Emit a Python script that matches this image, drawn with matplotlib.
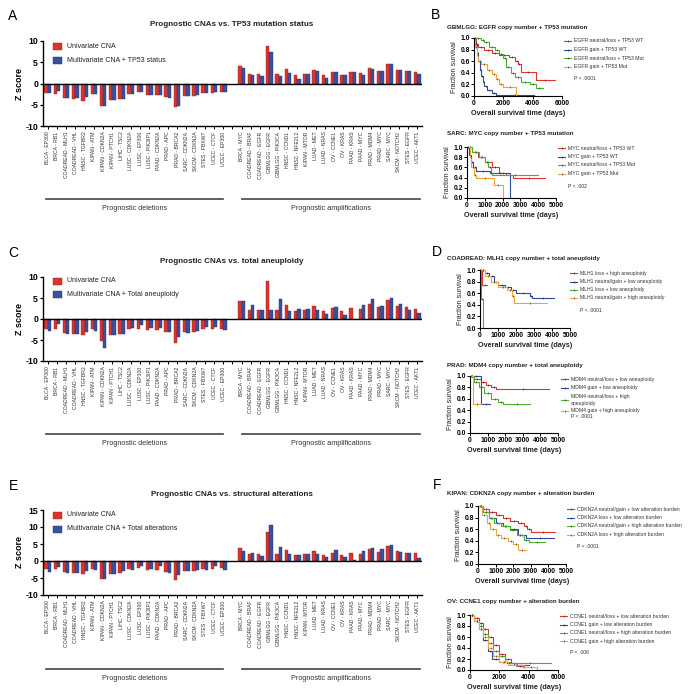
import matplotlib
matplotlib.use('Agg')
import matplotlib.pyplot as plt
import numpy as np
from matplotlib.lines import Line2D
from matplotlib.patches import Rectangle

plt.rcParams['font.family'] = ['Liberation Sans', 'DejaVu Sans']

W, H = 697, 694
fig = plt.figure(figsize=(W / 100, H / 100), dpi=100)

# ---------------- data: bar charts ----------------
deletions = ['BLCA - EP300', 'BRCA - RB1', 'COADREAD - MLH1', 'COADREAD - VHL', 'HNSC - TGFBR2',
             'KIPAN - ATM', 'KIPAN - CDKN2A', 'KIPAN - PTCH1', 'LIHC - TSC2', 'LUSC - CDKN2A',
             'LUSC - EP300', 'LUSC - PIK3IP1', 'PAAD - CDKN2A', 'PRAD - APC', 'PRAD - BRCA2',
             'SARC - CDKN2A', 'SKCM - CDKN2A', 'STES - FBXW7', 'UCEC - CTCF', 'UCEC - EP300']
amplifications = ['BRCA - MYC', 'COADREAD - BRAF', 'COADREAD - EGFR', 'GBMLGG - EGFR', 'GBMLGG - PIK3CA',
                  'HNSC - CCND1', 'HNSC - NFE2L2', 'KIPAN - MTOR', 'LUAD - MET', 'LUAD - NRAS',
                  'OV - CCNE1', 'OV - KRAS', 'PAAD - KRAS', 'PAAD - MYC', 'PRAD - MDM4',
                  'PRAD - MYC', 'SARC - MYC', 'SKCM - NOTCH2', 'STES - EGFR', 'UCEC - AKT1']

# Panel A (TP53 status)
a_uni_del = [-2.2, -2.5, -3.3, -3.6, -4.0, -2.4, -5.4, -3.8, -3.6, -2.4,
             -2.1, -2.6, -2.6, -3.2, -5.6, -3.0, -3.0, -2.2, -2.2, -2.1]
a_multi_del = [-2.2, -1.8, -3.3, -3.4, -3.2, -2.5, -5.4, -3.8, -3.6, -2.5,
               -2.0, -2.6, -2.6, -3.3, -5.4, -3.0, -2.8, -2.2, -2.0, -1.9]
a_uni_amp = [4.1, 2.2, 2.2, 8.9, 2.2, 3.4, 2.1, 2.2, 3.2, 2.0,
             2.7, 2.1, 2.6, 2.5, 3.7, 2.9, 4.6, 3.2, 2.9, 2.6]
a_multi_amp = [3.7, 1.9, 1.8, 7.5, 1.8, 2.4, 1.1, 2.3, 3.0, 1.3,
               2.7, 2.1, 2.6, 2.1, 3.5, 2.9, 4.6, 3.2, 2.9, 2.3]

# Panel C (total aneuploidy)
c_uni_del = [-2.3, -2.3, -3.3, -3.5, -3.9, -2.3, -5.3, -3.9, -3.5, -2.3,
             -2.3, -2.7, -2.7, -3.1, -5.6, -3.1, -3.1, -2.3, -2.3, -2.3]
c_multi_del = [-2.9, -1.3, -3.6, -3.5, -3.1, -2.9, -6.9, -3.7, -3.5, -2.1,
               -1.5, -2.1, -2.1, -3.1, -4.4, -3.3, -2.9, -1.9, -1.9, -2.5]
c_uni_amp = [4.2, 2.2, 2.2, 9.0, 2.2, 3.4, 2.0, 2.2, 3.1, 1.9,
             2.7, 2.0, 2.6, 2.3, 3.6, 2.8, 4.5, 3.1, 2.8, 2.5]
c_multi_amp = [4.3, 3.4, 2.2, 2.2, 4.8, 2.0, 2.3, 2.3, 2.2, 1.3,
               2.9, 1.0, 0.0, 3.4, 4.8, 3.0, 5.1, 3.5, 2.1, 1.5]

# Panel E (structural alterations)
e_uni_del = [-2.3, -2.3, -3.2, -3.4, -3.8, -2.3, -5.4, -3.8, -3.4, -2.3,
             -2.2, -2.6, -2.6, -3.1, -5.6, -2.9, -2.9, -2.3, -2.3, -2.2]
e_multi_del = [-3.1, -1.7, -3.6, -3.4, -2.8, -2.5, -5.4, -3.8, -2.9, -2.5,
               -1.5, -2.4, -1.5, -3.4, -4.1, -2.9, -2.6, -2.6, -1.5, -2.5]
e_uni_amp = [3.8, 2.0, 2.0, 8.5, 2.0, 3.2, 1.8, 2.0, 2.9, 1.7,
             2.5, 1.9, 2.4, 2.2, 3.4, 2.6, 4.3, 2.9, 2.5, 2.4]
e_multi_amp = [2.9, 2.4, 1.4, 10.6, 4.1, 2.0, 1.7, 2.0, 2.1, 1.1,
               3.1, 1.3, 0.3, 2.8, 3.7, 3.4, 4.6, 2.6, 2.4, 0.9]

# ---------------- data: Kaplan-Meier curves ----------------
# B top: GBMLGG EGFR
gbm_red_t = [0, 150, 300, 700, 1200, 1700, 2400, 2800, 3000, 3200, 4200, 5500]
gbm_red_s = [1.0, 0.9, 0.85, 0.8, 0.75, 0.7, 0.68, 0.6, 0.55, 0.42, 0.27, 0.27]
gbm_blue_t = [0, 100, 200, 300, 400, 500, 600, 700, 900, 1200, 1500, 4100]
gbm_blue_s = [1.0, 0.9, 0.75, 0.6, 0.45, 0.35, 0.25, 0.17, 0.1, 0.05, 0.02, 0.02]
gbm_green_t = [0, 500, 700, 1000, 1400, 1700, 2000, 2200, 2500, 2800, 3200, 3800, 4200, 4700]
gbm_green_s = [1.0, 0.97, 0.93, 0.85, 0.8, 0.72, 0.65, 0.5, 0.4, 0.32, 0.25, 0.2, 0.13, 0.13]
gbm_orange_t = [0, 100, 200, 300, 500, 900, 1200, 1500, 1700, 2000, 2850, 2850]
gbm_orange_s = [1.0, 0.85, 0.7, 0.6, 0.55, 0.45, 0.38, 0.3, 0.2, 0.15, 0.0, 0.0]

# B bottom: SARC MYC
sarc_red_t = [0, 300, 600, 1000, 1400, 1800, 2200, 2600, 4400]
sarc_red_s = [1.0, 0.9, 0.8, 0.7, 0.6, 0.5, 0.45, 0.4, 0.4]
sarc_blue_t = [0, 100, 200, 350, 500, 1300, 2400, 2400]
sarc_blue_s = [1.0, 0.85, 0.7, 0.6, 0.52, 0.5, 0.0, 0.0]
sarc_green_t = [0, 300, 700, 1000, 1200, 1350, 1400, 4000]
sarc_green_s = [1.0, 0.9, 0.8, 0.7, 0.6, 0.5, 0.45, 0.45]
sarc_orange_t = [0, 150, 250, 400, 500, 1500, 2000, 2000]
sarc_orange_s = [1.0, 0.8, 0.6, 0.45, 0.4, 0.25, 0.0, 0.0]

# D top: COADREAD MLH1
mlh_red_t = [0, 100, 400]
mlh_red_s = [1.0, 0.75, 0.75]
mlh_blue_t = [0, 300, 500, 800, 1000, 1400, 1700, 2000, 2800, 2900, 4100]
mlh_blue_s = [1.0, 0.95, 0.9, 0.8, 0.75, 0.7, 0.65, 0.6, 0.56, 0.52, 0.52]
mlh_green_t = [0, 50, 150, 150]
mlh_green_s = [1.0, 0.5, 0.0, 0.0]
mlh_orange_t = [0, 300, 600, 1000, 1500, 1800, 1900, 3700]
mlh_orange_s = [1.0, 0.9, 0.8, 0.7, 0.65, 0.55, 0.43, 0.43]

# D bottom: PRAD MDM4
mdm_red_t = [0, 200, 600, 900, 1200, 1500, 4500]
mdm_red_s = [1.0, 0.95, 0.9, 0.85, 0.8, 0.77, 0.77]
mdm_blue_t = [0, 650, 1150]
mdm_blue_s = [1.0, 0.5, 0.5]
mdm_green_t = [0, 200, 500, 800, 1200, 1600, 1900, 3400]
mdm_green_s = [1.0, 0.9, 0.8, 0.7, 0.6, 0.55, 0.5, 0.5]
mdm_orange_t = [0, 150, 600]
mdm_orange_s = [1.0, 0.5, 0.5]

# F top: KIPAN CDKN2A
cdk_red_t = [0, 300, 600, 1000, 1400, 1800, 2300, 2600, 2800, 3000, 4400]
cdk_red_s = [1.0, 0.95, 0.9, 0.85, 0.8, 0.75, 0.7, 0.65, 0.6, 0.56, 0.56]
cdk_blue_t = [0, 300, 600, 1000, 1400, 1800, 2300, 2700, 4300]
cdk_blue_s = [1.0, 0.9, 0.8, 0.7, 0.65, 0.6, 0.5, 0.45, 0.45]
cdk_green_t = [0, 300, 600, 900, 1300, 1800, 2200, 2600, 2900, 3800]
cdk_green_s = [1.0, 0.9, 0.8, 0.7, 0.65, 0.58, 0.5, 0.42, 0.38, 0.38]
cdk_orange_t = [0, 200, 500, 700, 1000, 1300, 1700, 2000, 2300, 2700]
cdk_orange_s = [1.0, 0.85, 0.7, 0.6, 0.5, 0.45, 0.4, 0.35, 0.25, 0.25]

# F bottom: OV CCNE1
ccn_red_t = [0, 300, 600, 900, 1200, 1600, 2000, 2400, 2800, 3200, 3600, 3700]
ccn_red_s = [1.0, 0.95, 0.85, 0.75, 0.6, 0.45, 0.3, 0.2, 0.12, 0.08, 0.05, 0.05]
ccn_blue_t = [0, 300, 600, 900, 1200, 1500, 2000, 2500, 3000, 4000]
ccn_blue_s = [1.0, 0.9, 0.75, 0.55, 0.35, 0.2, 0.15, 0.12, 0.1, 0.1]
ccn_green_t = [0, 300, 600, 900, 1200, 1600, 2000, 2400, 2700, 5500]
ccn_green_s = [1.0, 0.9, 0.8, 0.65, 0.5, 0.35, 0.25, 0.15, 0.12, 0.12]
ccn_orange_t = [0, 300, 600, 900, 1200, 1600, 2000, 2600, 3700, 4600, 4600]
ccn_orange_s = [1.0, 0.9, 0.75, 0.6, 0.4, 0.25, 0.15, 0.1, 0.05, 0.0, 0.0]

RED = '#d8352c'
RED_E = '#a32520'
BLUE = '#3a509c'
BLUE_E = '#26356e'
K_RED = '#e0332e'
K_BLUE = '#2b4aa0'
K_GREEN = '#4cae34'
K_ORANGE = '#f3a23a'
TXT = '#222222'


def px_axes(x0, y0, x1, y1):
    return fig.add_axes([x0 / W, 1 - y1 / H, (x1 - x0) / W, (y1 - y0) / H])


def fx(x):
    return x / W


def fy(y):
    return 1 - y / H


def fig_line(x0, x1, y, lw=1.2, color='#444444'):
    fig.add_artist(Line2D([fx(x0), fx(x1)], [fy(y), fy(y)], transform=fig.transFigure,
                          color=color, lw=lw))


def bar_panel(top, bot, uni_del, multi_del, uni_amp, multi_amp, ylim, yticks,
              legend2, title, title_y, letter, letter_y, bracket_y, leg_y):
    ax = px_axes(43, top, 422, bot)
    n = len(deletions)
    pos_del = np.arange(n)
    pos_amp = np.arange(n + 1, 2 * n + 1)
    w = 0.36
    ax.bar(pos_del - w / 2, uni_del, w, color=RED, edgecolor=RED_E, lw=0.3)
    ax.bar(pos_del + w / 2, multi_del, w, color=BLUE, edgecolor=BLUE_E, lw=0.3)
    ax.bar(pos_amp - w / 2, uni_amp, w, color=RED, edgecolor=RED_E, lw=0.3)
    ax.bar(pos_amp + w / 2, multi_amp, w, color=BLUE, edgecolor=BLUE_E, lw=0.3)
    ax.axhline(0, color='black', lw=1.0)
    ax.set_xlim(-0.5, 2 * n + 0.5)
    ax.set_ylim(*ylim)
    ax.set_yticks(yticks)
    ax.set_yticklabels([str(t) for t in yticks], fontsize=6.3, fontweight='bold')
    ticks = list(pos_del) + [n] + list(pos_amp)
    labels = deletions + [''] + amplifications
    ax.set_xticks(ticks)
    ax.set_xticklabels(labels, rotation=90, fontsize=3.7, color='#333333')
    for s in ['top', 'right']:
        ax.spines[s].set_visible(False)
    for s in ['left', 'bottom']:
        ax.spines[s].set_linewidth(1.0)
    ax.tick_params(axis='y', length=2.5, width=0.9, pad=1)
    ax.tick_params(axis='x', length=2.5, width=0.7, pad=1.5)
    ax.set_ylabel('Z score', fontsize=6.5, fontweight='bold', labelpad=1)
    # legend
    for (yy, col, ec, lab) in [(leg_y[0], RED, RED_E, 'Univariate CNA'),
                               (leg_y[1], BLUE, BLUE_E, legend2)]:
        fig.add_artist(Rectangle((fx(53), fy(yy + 3.5)), 9 / W, 7 / H, transform=fig.transFigure,
                                 facecolor=col, edgecolor=ec, lw=0.3))
        fig.text(fx(67), fy(yy), lab, fontsize=5.0, va='center', ha='left', color=TXT)
    fig.text(fx(232), fy(title_y), title, fontsize=5.8, fontweight='bold', ha='center',
             va='center', color=TXT)
    fig.text(fx(13), fy(letter_y), letter, fontsize=10, ha='center', va='center')
    fig_line(46, 223, bracket_y)
    fig_line(242, 420, bracket_y)
    fig.text(fx(134.5), fy(bracket_y + 9.5), 'Prognostic deletions', fontsize=5.2,
             ha='center', va='center', color='#333333')
    fig.text(fx(331), fy(bracket_y + 9.5), 'Prognostic amplifications', fontsize=5.2,
             ha='center', va='center', color='#333333')


bar_panel(41, 126, a_uni_del, a_multi_del, a_uni_amp, a_multi_amp, (-10, 10),
          [-10, -5, 0, 5, 10], 'Multivariate CNA + TP53 status',
          'Prognostic CNAs vs. TP53 mutation status', 25, 'A', 16, 199, (46, 60))
bar_panel(277, 361, c_uni_del, c_multi_del, c_uni_amp, c_multi_amp, (-10, 10),
          [-10, -5, 0, 5, 10], 'Multivariate CNA + Total aneuploidy',
          'Prognostic CNAs vs. total aneuploidy', 261, 'C', 253, 434, (281, 294))
bar_panel(510, 595, e_uni_del, e_multi_del, e_uni_amp, e_multi_amp, (-10, 15),
          [-10, -5, 0, 5, 10, 15], 'Multivariate CNA + Total alterations',
          'Prognostic CNAs vs. structural alterations', 495, 'E', 486, 669, (515, 529))


def km_panel(box, xmax, xticks, curves, title, title_y, labels, leg_x, leg_ys, ptext, p_y):
    x0, y0, x1, y1 = box
    ax = px_axes(x0, y0, x1, y1)
    for (t, s, col) in curves:
        ax.step(t, s, where='post', color=col, lw=0.8, clip_on=False)
        # censor marks at the curve ends and a few internal steps
        tt = np.asarray(t, dtype=float)
        ss = np.asarray(s, dtype=float)
        mids = (tt[1:] + tt[:-1]) / 2
        mids = mids[ss[:-1] > 0]
        ax.plot(mids, ss[:-1][ss[:-1] > 0], linestyle='none', marker='|', ms=1.6, mew=0.4,
                color='#222222', clip_on=False)
    ax.set_xlim(0, xmax)
    ax.set_ylim(0, 1.0)
    ax.set_xticks(xticks)
    ax.set_xticklabels([str(v) for v in xticks], fontsize=4.9, fontweight='bold')
    ax.set_yticks([0, 0.2, 0.4, 0.6, 0.8, 1.0])
    ax.set_yticklabels(['0.0', '0.2', '0.4', '0.6', '0.8', '1.0'], fontsize=4.9, fontweight='bold')
    for s in ['top', 'right']:
        ax.spines[s].set_visible(False)
    for s in ['left', 'bottom']:
        ax.spines[s].set_linewidth(0.8)
    ax.tick_params(length=2, width=0.7, pad=1)
    ax.set_ylabel('Fraction survival', fontsize=5.0, labelpad=1.5, color=TXT)
    ax.set_xlabel('Overall survival time (days)', fontsize=5.2, fontweight='bold', labelpad=2,
                  color=TXT)
    fig.text(fx(447), fy(title_y), title, fontsize=4.5, fontweight='bold', ha='left',
             va='center', color=TXT)
    for (lab, yy, (_, _, col)) in zip(labels, leg_ys, curves):
        fig.add_artist(Line2D([fx(leg_x), fx(leg_x + 7)], [fy(yy), fy(yy)],
                              transform=fig.transFigure, color=col, lw=0.8))
        fig.add_artist(Line2D([fx(leg_x + 3.5)], [fy(yy)], transform=fig.transFigure,
                              color='#222222', marker='|', ms=1.6, mew=0.4, linestyle='none'))
        fig.text(fx(leg_x + 10), fy(yy), lab, fontsize=3.7, ha='left', va='center',
                 color='#333333', linespacing=1.6)
    fig.text(fx(leg_x + 10), fy(p_y), ptext, fontsize=3.7, ha='left', va='center',
             color='#333333')
    return ax


km_panel((474, 38, 562, 96), 6000, [0, 2000, 4000, 6000],
         [(gbm_red_t, gbm_red_s, K_RED), (gbm_blue_t, gbm_blue_s, K_BLUE),
          (gbm_green_t, gbm_green_s, K_GREEN), (gbm_orange_t, gbm_orange_s, K_ORANGE)],
         'GBMLGG: EGFR copy number + TP53 mutation', 27,
         ['EGFR neutral/loss + TP53 WT', 'EGFR gain + TP53 WT',
          'EGFR neutral/loss + TP53 Mut', 'EGFR gain + TP53 Mut'],
         564, [41, 49.5, 58, 66.5], 'P < .0001', 79)

km_panel((467, 147, 556, 198), 5000, [0, 1000, 2000, 3000, 4000, 5000],
         [(sarc_red_t, sarc_red_s, K_RED), (sarc_blue_t, sarc_blue_s, K_BLUE),
          (sarc_green_t, sarc_green_s, K_GREEN), (sarc_orange_t, sarc_orange_s, K_ORANGE)],
         'SARC: MYC copy number + TP53 mutation', 134,
         ['MYC neutral/loss + TP53 WT', 'MYC gain + TP53 WT',
          'MYC neutral/loss + TP53 Mut', 'MYC gain + TP53 Mut'],
         558, [148, 156.5, 165, 173.5], 'P < .002', 187)

km_panel((480, 270, 570, 328), 5000, [0, 1000, 2000, 3000, 4000, 5000],
         [(mlh_red_t, mlh_red_s, K_RED), (mlh_blue_t, mlh_blue_s, K_BLUE),
          (mlh_green_t, mlh_green_s, K_GREEN), (mlh_orange_t, mlh_orange_s, K_ORANGE)],
         'COADREAD: MLH1 copy number + total aneuploidy', 258,
         ['MLH1 loss + high aneuploidy', 'MLH1 neutral/gain + low aneuploidy',
          'MLH1 loss + low aneuploidy', 'MLH1 neutral/gain + high aneuploidy'],
         570, [273, 281.5, 289.5, 298], 'P < .0001', 310)

km_panel((470, 376, 558, 433), 5000, [0, 1000, 2000, 3000, 4000, 5000],
         [(mdm_red_t, mdm_red_s, K_RED), (mdm_blue_t, mdm_blue_s, K_BLUE),
          (mdm_green_t, mdm_green_s, K_GREEN), (mdm_orange_t, mdm_orange_s, K_ORANGE)],
         'PRAD: MDM4 copy number + total aneuploidy', 365,
         ['MDM4 neutral/loss + low aneuploidy', 'MDM4 gain + low aneuploidy',
          'MDM4 neutral/loss + high\naneuploidy', 'MDM4 gain + high aneuploidy'],
         561, [379, 387.5, 400, 411], 'P < .0001', 417)

km_panel((478, 506, 566, 564), 5000, [0, 1000, 2000, 3000, 4000, 5000],
         [(cdk_red_t, cdk_red_s, K_RED), (cdk_blue_t, cdk_blue_s, K_BLUE),
          (cdk_green_t, cdk_green_s, K_GREEN), (cdk_orange_t, cdk_orange_s, K_ORANGE)],
         'KIPAN: CDKN2A copy number + alteration burden', 494,
         ['CDKN2A neutral/gain + low alteration burden', 'CDKN2A loss + low alteration burden',
          'CDKN2A neutral/gain + high alteration burden', 'CDKN2A loss + high alteration burden'],
         567, [509, 517.5, 526, 534.5], 'P < .0001', 547)

km_panel((470, 615, 558, 670), 6000, [0, 2000, 4000, 6000],
         [(ccn_red_t, ccn_red_s, K_RED), (ccn_blue_t, ccn_blue_s, K_BLUE),
          (ccn_green_t, ccn_green_s, K_GREEN), (ccn_orange_t, ccn_orange_s, K_ORANGE)],
         'OV: CCNE1 copy number + alteration burden', 601,
         ['CCNE1 neutral/loss + low alteration burden', 'CCNE1 gain + low alteration burden',
          'CCNE1 neutral/loss + high alteration burden', 'CCNE1 gain + high alteration burden'],
         560, [616, 624.5, 632.5, 641], 'P < .006', 653)

for (lt, lx, ly) in [('B', 435, 15), ('D', 437, 252), ('F', 437, 485)]:
    fig.text(fx(lx), fy(ly), lt, fontsize=10, ha='center', va='center')

fig.savefig('out.png', dpi=100)
